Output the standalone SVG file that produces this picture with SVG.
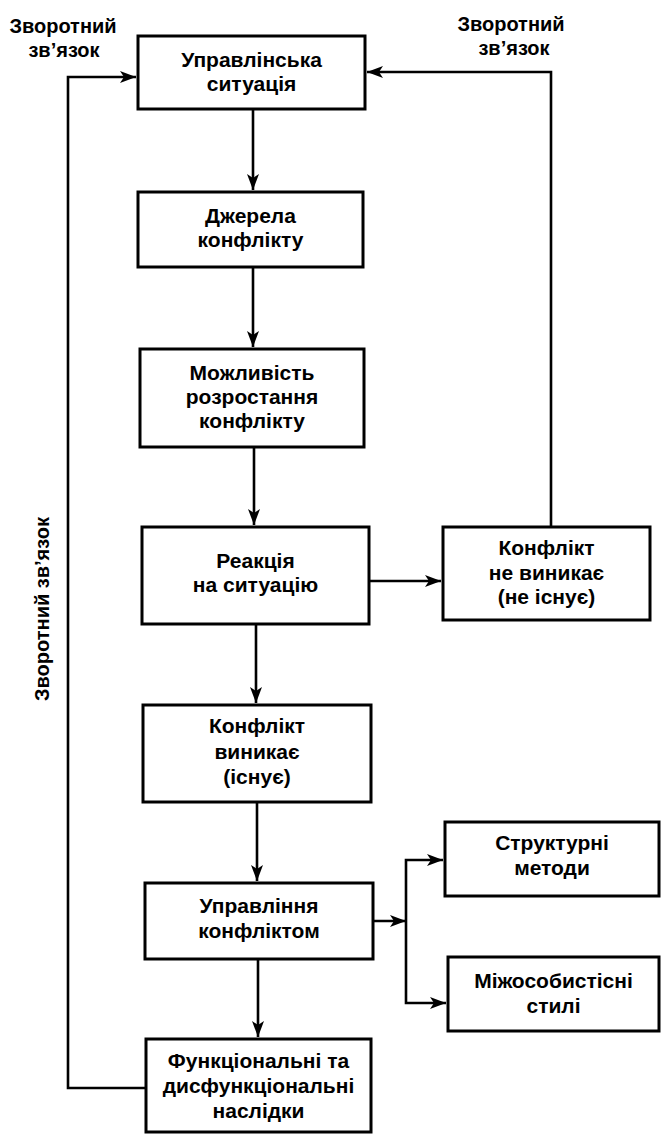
<svg xmlns="http://www.w3.org/2000/svg" width="662" height="1134" viewBox="0 0 662 1134">
<style>
.box{fill:#fff;stroke:#000;stroke-width:3}
.t{font-family:"Liberation Sans",Arial,sans-serif;font-weight:bold;font-size:21px;fill:#000;text-anchor:middle}
.lbl{font-family:"Liberation Sans",Arial,sans-serif;font-weight:bold;font-size:20px;fill:#000;text-anchor:middle}
.c{fill:none;stroke:#000;stroke-width:2.6}
</style>
<defs>
<marker id="ah" markerUnits="userSpaceOnUse" markerWidth="17" markerHeight="12" refX="16" refY="6" orient="auto">
<path d="M0,0 L16,6 L0,12 L4,6 z" fill="#000"/>
</marker>
</defs>
<rect width="662" height="1134" fill="#fff"/>
<g id="labels">
<text class="lbl" x="63" y="33">Зворотний</text>
<text class="lbl" x="64" y="57">зв’язок</text>
<text class="lbl" x="511" y="31">Зворотний</text>
<text class="lbl" x="514" y="55">зв’язок</text>
<text class="lbl" x="49" y="609" transform="rotate(-90 49 609)">Зворотний зв’язок</text>
</g>
<g id="connectors">
<path class="c" d="M253,109 V190" marker-end="url(#ah)"/>
<path class="c" d="M253,267 V347" marker-end="url(#ah)"/>
<path class="c" d="M254,447 V525" marker-end="url(#ah)"/>
<path class="c" d="M369,581 H441" marker-end="url(#ah)"/>
<path class="c" d="M551,527 V72 H367" marker-end="url(#ah)"/>
<path class="c" d="M256,624 V703" marker-end="url(#ah)"/>
<path class="c" d="M257,802 V881" marker-end="url(#ah)"/>
<path class="c" d="M373,921 H406" marker-end="url(#ah)"/>
<path class="c" d="M406,921 V860 H443" marker-end="url(#ah)"/>
<path class="c" d="M406,921 V1003 H446" marker-end="url(#ah)"/>
<path class="c" d="M258,959 V1037" marker-end="url(#ah)"/>
<path class="c" d="M146,1088 H68 V77 H136" marker-end="url(#ah)"/>
</g>
<g id="n1">
<rect class="box" x="138" y="36" width="227" height="73"/>
<text class="t" x="251.5" y="67">Управлінська</text>
<text class="t" x="251.5" y="91">ситуація</text>
</g>
<g id="n2">
<rect class="box" x="138" y="192" width="225" height="75"/>
<text class="t" x="250.5" y="223">Джерела</text>
<text class="t" x="250.5" y="247">конфлікту</text>
</g>
<g id="n3">
<rect class="box" x="140" y="349" width="224" height="98"/>
<text class="t" x="252" y="380">Можливість</text>
<text class="t" x="252" y="404">розростання</text>
<text class="t" x="252" y="428">конфлікту</text>
</g>
<g id="n4">
<rect class="box" x="142" y="527" width="227" height="97"/>
<text class="t" x="255.5" y="568">Реакція</text>
<text class="t" x="255.5" y="592">на ситуацію</text>
</g>
<g id="n5">
<rect class="box" x="443" y="527" width="207" height="93"/>
<text class="t" x="546.5" y="555">Конфлікт</text>
<text class="t" x="546.5" y="580">не виникає</text>
<text class="t" x="546.5" y="604">(не існує)</text>
</g>
<g id="n6">
<rect class="box" x="143" y="705" width="228" height="97"/>
<text class="t" x="257" y="733">Конфлікт</text>
<text class="t" x="257" y="759">виникає</text>
<text class="t" x="257" y="784">(існує)</text>
</g>
<g id="n7">
<rect class="box" x="145" y="883" width="228" height="76"/>
<text class="t" x="259" y="913">Управління</text>
<text class="t" x="259" y="938">конфліктом</text>
</g>
<g id="n8">
<rect class="box" x="146" y="1039" width="225" height="93"/>
<text class="t" x="258.5" y="1068">Функціональні та</text>
<text class="t" x="258.5" y="1093">дисфункціональні</text>
<text class="t" x="258.5" y="1118">наслідки</text>
</g>
<g id="n9">
<rect class="box" x="445" y="822" width="214" height="74"/>
<text class="t" x="552" y="850">Структурні</text>
<text class="t" x="552" y="875">методи</text>
</g>
<g id="n10">
<rect class="box" x="448" y="957" width="211" height="74"/>
<text class="t" x="553.5" y="988">Міжособистісні</text>
<text class="t" x="553.5" y="1013">стилі</text>
</g>
</svg>
